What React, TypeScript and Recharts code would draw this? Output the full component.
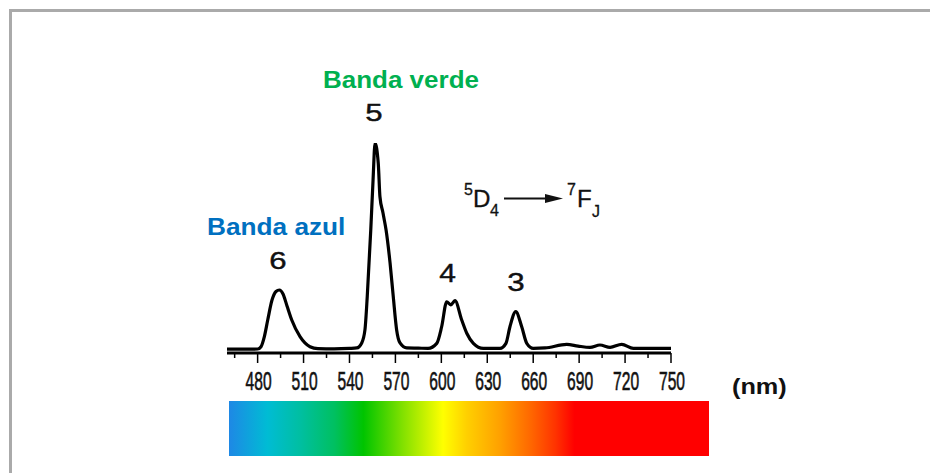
import { Line, LineChart, XAxis, YAxis } from 'recharts';

// emission spectrum (nm -> relative intensity)
const wavelengths = [
  460, 470, 480, 482.2, 484.4, 486.6, 489.4, 492, 494.2, 496.6, 499.2, 502.3, 507.7, 510.9, 514.2, 519.4, 530, 540,
  544.7, 548, 550.1, 551.6, 553.9, 555.4, 556.7, 558.8, 559.9, 561.9, 562.5, 563.9, 566.5, 568.6, 570.8, 573, 577.4,
  585, 591.3, 597, 600.2, 603.5, 606.1, 608.9, 613.3, 616.6, 620.9, 627.4, 633, 638.3, 642.2, 644.8, 648.6, 652.5,
  655.8, 660.1, 667.7, 681.9, 689.3, 697.1, 703.6, 710.2, 717.8, 725.4, 735, 750,
];
const intensities = [
  1.8, 1.8, 1.9, 3.0, 7.8, 15.7, 25.2, 29.3, 30, 28.1, 22.4, 15.7, 7.8, 4.8, 3.0, 2.1, 2.0, 2.2,
  2.4, 4.8, 11, 26.8, 58.6, 82.4, 99.9, 90.3, 74.4, 66.7, 64.3, 58.6, 42.9, 26.8, 11, 4.8, 2.4,
  2.3, 2.2, 4.6, 12.5, 24.4, 22.9, 24.9, 15.7, 9.4, 4.6, 2.2, 2.2, 2.2, 4.6, 12.5, 19.7, 12.5,
  4.6, 2.2, 2.4, 4.1, 3.3, 2.7, 3.8, 2.7, 4.1, 2.2, 2.2, 2.2,
];
const majorTicks = [480, 510, 540, 570, 600, 630, 660, 690, 720, 750];
const minorTicks = [465, 495, 525, 555, 585, 615, 645, 675, 705, 735];

const spectrum = wavelengths.map((nm, i) => ({ nm, intensity: intensities[i] }));
const allTicks = [...minorTicks, ...majorTicks].sort((a, b) => a - b);

const font = '"Liberation Sans", Arial, sans-serif';

// text with a horizontal stretch (the source figure is not drawn at 1:1)
function Txt({ x, y, size, sx = 1, bold = false, color = '#111', anchor = 'start', heavy = 0, children }: any) {
  return (
    <text
      transform={`translate(${x} ${y}) scale(${sx} 1)`}
      textAnchor={anchor}
      fill={color}
      stroke={heavy ? color : 'none'}
      strokeWidth={heavy}
      fontSize={size}
      style={{ fontFamily: font, fontSize: size, fontWeight: bold ? 700 : 400 }}
    >
      {children}
    </text>
  );
}

function AxisTick({ x, y, payload }: any) {
  const major = majorTicks.includes(payload.value);
  return (
    <g>
      <line x1={x} x2={x} y1={y} y2={y + (major ? 10 : 5)} stroke="#000" strokeWidth={1.5} />
      {major && (
        <Txt x={x + 1} y={y + 37} size={26} sx={0.6} heavy={0.6} anchor="middle">
          {payload.value}
        </Txt>
      )}
    </g>
  );
}

const spectrumGradient =
  'linear-gradient(to right, #1e88e5 0%, #00bcd4 8%, #00bfa0 15%, #00c060 22%, #00c400 28%, #7fe000 36%, #ffff00 44.6%, #ffd000 49.5%, #ffa000 56.5%, #ff6600 63%, #ff3300 68%, #ff0000 72%, #ff0000 100%)';

export default function App() {
  return (
    <div style={{ position: 'absolute', left: 0, top: 0, width: 930, height: 473, background: '#fff', overflow: 'hidden' }}>
      <div
        style={{
          position: 'absolute',
          left: 9,
          top: 9,
          width: 1000,
          height: 600,
          borderTop: '3px solid #aaa',
          borderLeft: '3px solid #aaa',
        }}
      />
      <div style={{ position: 'absolute', left: 0, top: 0 }}>
        <LineChart width={930} height={473} data={spectrum} margin={{ top: 143, right: 259, bottom: 0, left: 227 }}>
          <XAxis
            dataKey="nm"
            type="number"
            domain={[460, 750]}
            ticks={allTicks}
            interval={0}
            allowDataOverflow
            height={120}
            tickSize={0}
            tickMargin={0}
            tickLine={false}
            axisLine={{ stroke: '#000', strokeWidth: 3 }}
            tick={<AxisTick />}
          />
          <YAxis type="number" domain={[0, 100]} hide allowDataOverflow />
          <Line
            type="monotone"
            dataKey="intensity"
            stroke="#000"
            strokeWidth={3.2}
            dot={false}
            isAnimationActive={false}
          />
        </LineChart>
      </div>
      <div style={{ position: 'absolute', left: 229, top: 401, width: 480, height: 55, background: spectrumGradient }} />
      <svg width={930} height={473} style={{ position: 'absolute', left: 0, top: 0, pointerEvents: 'none' }}>
        <Txt x={323} y={88} size={23} sx={1.13} bold color="#00b050">Banda verde</Txt>
        <Txt x={207} y={235} size={23} sx={1.14} bold color="#0070c0">Banda azul</Txt>

        <Txt x={374} y={121} size={24} sx={1.3} heavy={0.4} anchor="middle">5</Txt>
        <Txt x={278} y={268.5} size={24} sx={1.3} heavy={0.4} anchor="middle">6</Txt>
        <Txt x={447.5} y={281.5} size={25} sx={1.2} heavy={0.4} anchor="middle">4</Txt>
        <Txt x={516} y={290.5} size={25} sx={1.25} heavy={0.4} anchor="middle">3</Txt>

        <Txt x={464} y={195} size={16} heavy={0.3}>5</Txt>
        <Txt x={473} y={207} size={23} sx={1.05} heavy={0.3}>D</Txt>
        <Txt x={490} y={215.5} size={16} heavy={0.3}>4</Txt>
        <line x1={504} x2={548} y1={198.5} y2={198.5} stroke="#111" strokeWidth={2} />
        <polygon points="545,194 563,198.5 545,203" fill="#111" />
        <Txt x={567} y={195} size={16} heavy={0.3}>7</Txt>
        <Txt x={577} y={207} size={23} sx={1.05} heavy={0.3}>F</Txt>
        <Txt x={592} y={216.5} size={16} heavy={0.3}>J</Txt>

        <Txt x={732} y={394} size={22} sx={1.15} bold>(nm)</Txt>
      </svg>
    </div>
  );
}
